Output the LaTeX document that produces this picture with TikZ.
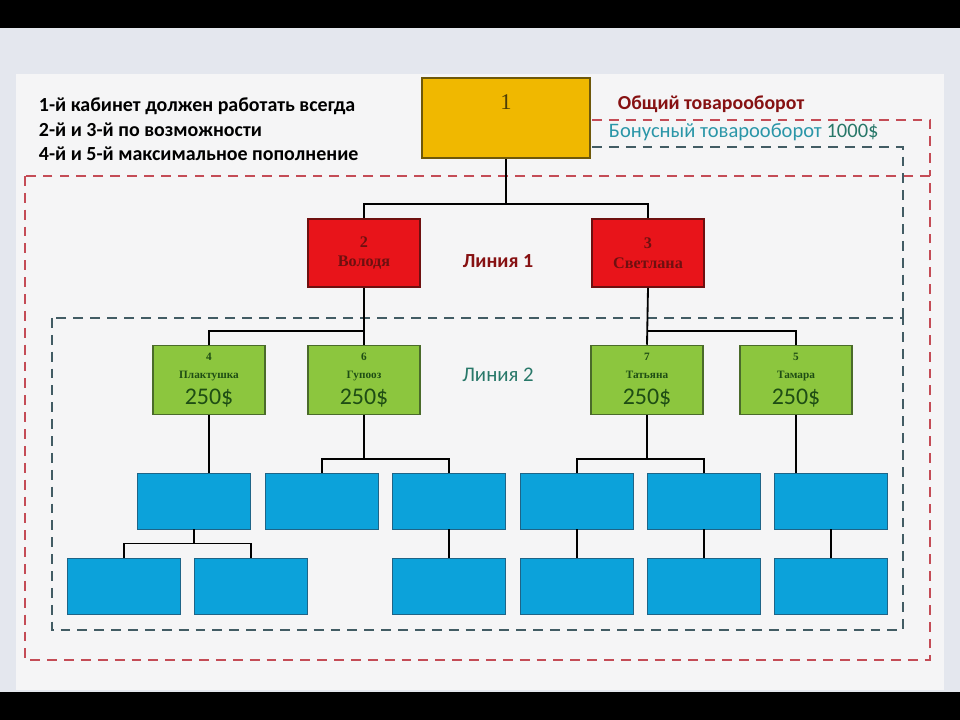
\documentclass[tikz,border=0pt]{standalone}
\usepackage{fontspec}
\setmainfont{Carlito}
\newfontfamily\boxfont{Liberation Serif}
\newcommand\sumFont{\rmfamily\mdseries\fontsize{17}{17}\selectfont}
\usepackage{xcolor}
\definecolor{orgBack}{RGB}{228, 231, 238}
\definecolor{orgPanel}{RGB}{245, 245, 246}
\definecolor{orgYellow}{RGB}{240, 184, 0}
\definecolor{orgYellowDark}{RGB}{110, 88, 10}
\definecolor{orgRed}{RGB}{232, 20, 26}
\definecolor{orgRedDark}{RGB}{110, 16, 16}
\definecolor{orgGreen}{RGB}{140, 198, 62}
\definecolor{orgGreenDark}{RGB}{74, 107, 42}
\definecolor{orgGreenText}{RGB}{30, 77, 20}
\definecolor{orgBlue}{RGB}{12, 162, 218}
\definecolor{orgBlueDark}{RGB}{30, 100, 135}
\definecolor{orgFrameRed}{RGB}{196, 76, 86}
\definecolor{orgFrameDark}{RGB}{66, 92, 100}
\definecolor{orgTeal}{RGB}{42, 150, 168}
\definecolor{orgLine2}{RGB}{40, 120, 105}
\usepackage{tikz}
\usetikzlibrary{
    positioning,
    calc
}

\begin{document}
\begin{tikzpicture}[
    x=0.025cm, y=-0.025cm,
    topBox/.style={
        rectangle, draw=orgYellowDark, line width=1.2pt,
        fill=orgYellow, text=orgYellowDark!70!black,
        font=\boxfont\fontsize{16}{18}\selectfont,
        minimum width=4.2cm, minimum height=2.0cm,
        text height=0.4cm, text depth=0.8cm
    },
    lineOneBox/.style={
        rectangle, draw=orgRedDark, line width=1.2pt,
        fill=orgRed, text=orgRedDark,
        font=\boxfont\bfseries\fontsize{11.5}{14}\selectfont, align=center,
        minimum width=2.8cm, minimum height=1.7cm
    },
    lineTwoBox/.style={
        rectangle, draw=orgGreenDark, line width=1.2pt,
        fill=orgGreen, text=orgGreenText,
        font=\boxfont\bfseries\fontsize{8}{13}\selectfont, align=center,
        minimum width=2.8cm, minimum height=1.72cm, inner sep=2pt
    },
    emptyBox/.style={
        rectangle, draw=orgBlueDark, line width=0.6pt,
        fill=orgBlue, minimum width=2.82cm, minimum height=1.4cm
    },
    linkLine/.style={
        line width=1.3pt, draw=black
    },
    redFrame/.style={
        draw=orgFrameRed, line width=1.2pt, dash pattern=on 7pt off 5pt
    },
    darkFrame/.style={
        draw=orgFrameDark, line width=1.2pt, dash pattern=on 7pt off 5pt
    },
    noteText/.style={
        font=\bfseries\fontsize{14.2}{17.4}\selectfont, align=left, text=black
    }
]

    % Background
    \fill[black] (0,0) rectangle (960,720);
    \fill[orgBack] (0,28) rectangle (960,692);
    \fill[orgPanel] (16,74) rectangle (944,690);

    % Frames
    \draw[redFrame] (25,176) rectangle (930,660);
    \draw[redFrame] (592,120) -| (930,176);
    \draw[darkFrame] (52,318) rectangle (903,630);
    \draw[darkFrame] (592,147) -| (903,318);

    % Notes
    \node[noteText, anchor=north west] (note) at (34,93) {
        1-й кабинет должен работать всегда\\
        2-й и 3-й по возможности\\
        4-й и 5-й максимальное пополнение
    };
    \node[font=\bfseries\fontsize{14.1}{16}\selectfont, text=orgRedDark!80!orgRed, anchor=west] (totalLabel) at (613,104) {Общий товарооборот};
    \node[font=\fontsize{14.6}{16}\selectfont, text=orgTeal, anchor=west] (bonusLabel) at (604,132) {Бонусный товарооборот \textcolor{orgLine2}{1000\$}};
    \node[font=\bfseries\fontsize{14.2}{16}\selectfont, text=orgRedDark!80!orgRed] (lineOne) at (498,261) {Линия 1};
    \node[font=\fontsize{14.8}{16}\selectfont, text=orgLine2] (lineTwo) at (498,375) {Линия 2};

    % Tree
    \node[topBox] (n1) at (506,118) {1};

    \node[lineOneBox] (n2) at (364,253) {2\\Володя};
    \node[lineOneBox] (n3) at (648,253) {3\\Светлана};

    \node[lineTwoBox] (n4) at (209,380) {4\\Плактушка\\[5pt]{\sumFont 250\$}};
    \node[lineTwoBox] (n6) at (364,380) {6\\Гупооз\\[5pt]{\sumFont 250\$}};
    \node[lineTwoBox] (n7) at (647,380) {7\\Татьяна\\[5pt]{\sumFont 250\$}};
    \node[lineTwoBox] (n5) at (796,380) {5\\Тамара\\[5pt]{\sumFont 250\$}};

    \node[emptyBox] (b1) at (194,501) {};
    \node[emptyBox] (b2) at (322,501) {};
    \node[emptyBox] (b3) at (449,501) {};
    \node[emptyBox] (b4) at (577,501) {};
    \node[emptyBox] (b5) at (704,501) {};
    \node[emptyBox] (b6) at (831,501) {};

    \node[emptyBox] (c1) at (124,586) {};
    \node[emptyBox] (c2) at (251,586) {};
    \node[emptyBox] (c3) at (449,586) {};
    \node[emptyBox] (c4) at (577,586) {};
    \node[emptyBox] (c5) at (704,586) {};
    \node[emptyBox] (c6) at (831,586) {};

    % Links
    \draw[linkLine] (n1.south) -- ++(0,45) -| (n2.north);
    \draw[linkLine] (n1.south) ++(0,45) -| (n3.north);

    \draw[linkLine] (n2.south) -- (n6.north);
    \draw[linkLine] (n2.south) ++(0,43) -| (n4.north);
    \draw[linkLine] (n3.south) -- (n7.north);
    \draw[linkLine] (n3.south) ++(0,43) -| (n5.north);

    \draw[linkLine] (n4.south) -- (n4.south |- b1.north);
    \draw[linkLine] (n6.south) -- ++(0,44) -| (b2.north);
    \draw[linkLine] (n6.south) ++(0,44) -| (b3.north);
    \draw[linkLine] (n7.south) -- ++(0,44) -| (b4.north);
    \draw[linkLine] (n7.south) ++(0,44) -| (b5.north);
    \draw[linkLine] (n5.south) -- (n5.south |- b6.north);

    \draw[linkLine] (b1.south) -- ++(0,14) -| (c1.north);
    \draw[linkLine] (b1.south) ++(0,14) -| (c2.north);
    \draw[linkLine] (b3.south) -- (c3.north);
    \draw[linkLine] (b4.south) -- (c4.north);
    \draw[linkLine] (b5.south) -- (c5.north);
    \draw[linkLine] (b6.south) -- (c6.north);

\end{tikzpicture}
\end{document}
